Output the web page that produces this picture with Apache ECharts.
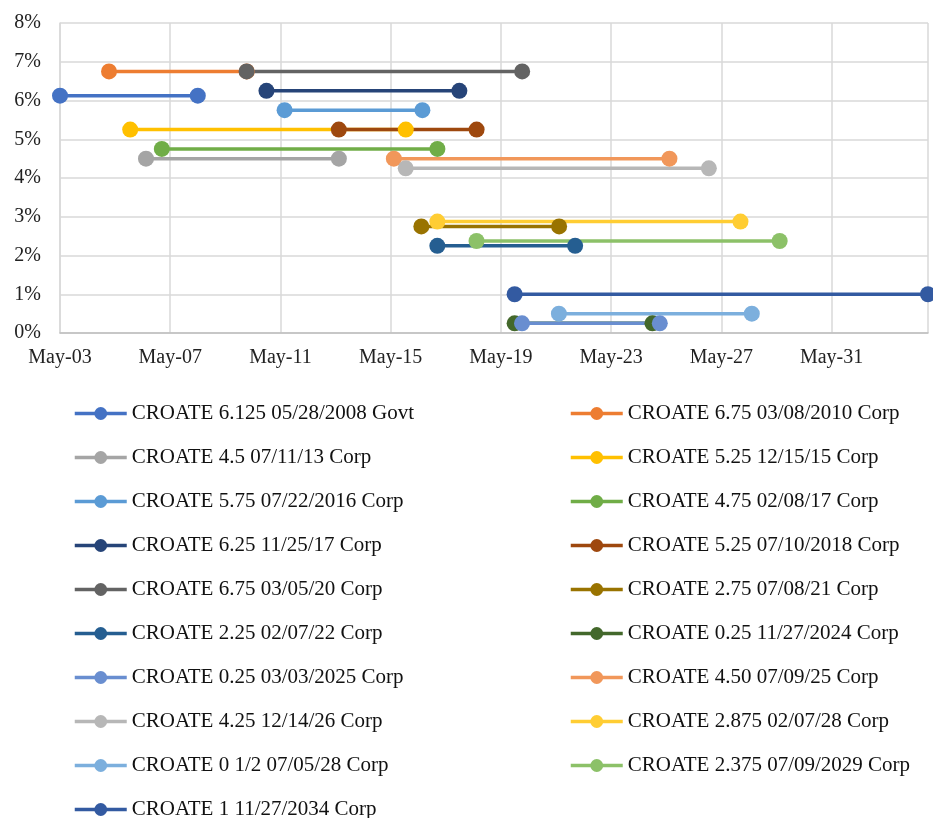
<!DOCTYPE html>
<html>
<head>
<meta charset="utf-8">
<script src="https://cdn.jsdelivr.net/npm/echarts@6/dist/echarts.min.js"></script>
<style>
  html, body { margin: 0; padding: 0; background: #fff; }
  #chart { width: 933px; height: 818px; }
</style>
</head>
<body>
<div id="chart"></div>
<script>
// bond names, coupons (%), first date and maturity
var names = [
    "CROATE 6.125 05/28/2008 Govt",
    "CROATE 6.75 03/08/2010 Corp",
    "CROATE 4.5 07/11/13 Corp",
    "CROATE 5.25 12/15/15 Corp",
    "CROATE 5.75 07/22/2016 Corp",
    "CROATE 4.75 02/08/17 Corp",
    "CROATE 6.25 11/25/17 Corp",
    "CROATE 5.25 07/10/2018 Corp",
    "CROATE 6.75 03/05/20 Corp",
    "CROATE 2.75 07/08/21 Corp",
    "CROATE 2.25 02/07/22 Corp",
    "CROATE 0.25 11/27/2024 Corp",
    "CROATE 0.25 03/03/2025 Corp",
    "CROATE 4.50 07/09/25 Corp",
    "CROATE 4.25 12/14/26 Corp",
    "CROATE 2.875 02/07/28 Corp",
    "CROATE 0 1/2 07/05/28 Corp",
    "CROATE 2.375 07/09/2029 Corp",
    "CROATE 1 11/27/2034 Corp"
];
var coupons = [6.125, 6.75, 4.5, 5.25, 5.75, 4.75, 6.25, 5.25, 6.75, 2.75, 2.25, 0.25, 0.25, 4.5, 4.25, 2.875, 0.5, 2.375, 1];
var startDates = [
    "2003-05-28", "2005-03-08", "2006-07-11", "2005-12-15", "2011-07-22",
    "2007-02-08", "2010-11-25", "2013-07-10", "2010-03-05", "2016-07-08",
    "2017-02-07", "2019-11-27", "2020-03-03", "2015-07-09", "2015-12-14",
    "2017-02-07", "2021-07-05", "2018-07-09", "2019-11-27"
];
var endDates = [
    "2008-05-28", "2010-03-08", "2013-07-11", "2015-12-15", "2016-07-22",
    "2017-02-08", "2017-11-25", "2018-07-10", "2020-03-05", "2021-07-08",
    "2022-02-07", "2024-11-27", "2025-03-03", "2025-07-09", "2026-12-14",
    "2028-02-07", "2028-07-05", "2029-07-09", "2034-11-27"
];
var colors = [
    "#4472C4", "#ED7D31", "#A5A5A5", "#FFC000", "#5B9BD5", "#70AD47",
    "#264478", "#9E480E", "#636363", "#997300", "#255E91", "#43682B",
    "#698ED0", "#F1975A", "#B7B7B7", "#FFCD33", "#7CAFDD", "#8CC168", "#335AA1"
];
var monthNames = ["Jan","Feb","Mar","Apr","May","Jun","Jul","Aug","Sep","Oct","Nov","Dec"];

// months counted from 28 May 2003
function toMonths(s) {
    var p = s.split("-");
    return (+p[0] - 2003) * 12 + (+p[1] - 5) + (+p[2] - 28) / 30.44;
}

var chart = echarts.init(document.getElementById("chart"));
var font = "'Liberation Serif', 'Times New Roman', serif";

var series = names.map(function (n, i) {
    return {
        name: n,
        type: "line",
        data: [[toMonths(startDates[i]), coupons[i]], [toMonths(endDates[i]), coupons[i]]],
        symbol: "circle",
        symbolSize: 16,
        lineStyle: { width: 3.5, color: colors[i] },
        itemStyle: { color: colors[i] },
        animation: false
    };
});

function makeLegend(left, odd) {
    return {
        orient: "vertical",
        left: left,
        top: 403,
        height: 600,
        padding: 0,
        itemWidth: 52,
        itemHeight: 16,
        itemGap: 23,
        lineStyle: { width: 3.5 },
        data: names.filter(function (n, i) { return i % 2 === odd; }),
        textStyle: { fontFamily: font, fontSize: 21, lineHeight: 20, color: "#111" }
    };
}

var option = {
    grid: { left: 60, right: 5, top: 23, bottom: 485, containLabel: false },
    xAxis: {
        type: "value",
        min: 0,
        max: toMonths("2034-11-27"),
        interval: 48,
        axisLine: { lineStyle: { color: "#BFBFBF", width: 1.5 } },
        axisTick: { show: false },
        splitLine: { show: true, lineStyle: { color: "#D9D9D9", width: 1.5 } },
        axisLabel: {
            color: "#222",
            fontFamily: font,
            fontSize: 20,
            margin: 15,
            showMaxLabel: false,
            formatter: function (v) {
                var m = Math.round(v) + 4;
                var yy = 2003 + Math.floor(m / 12);
                return monthNames[m % 12] + "-" + String(yy).slice(2);
            }
        }
    },
    yAxis: {
        type: "value",
        min: 0,
        max: 8,
        interval: 1,
        axisLine: { show: true, lineStyle: { color: "#D9D9D9", width: 1.5 } },
        axisTick: { show: false },
        splitLine: { lineStyle: { color: "#D9D9D9", width: 1.5 } },
        axisLabel: {
            color: "#222",
            fontFamily: font,
            fontSize: 20,
            margin: 19,
            formatter: "{value}%"
        }
    },
    legend: [makeLegend(73, 0), makeLegend(569, 1)],
    series: series
};
chart.setOption(option);
window.addEventListener("resize", function () {
    chart.resize();
});
</script>
</body>
</html>
